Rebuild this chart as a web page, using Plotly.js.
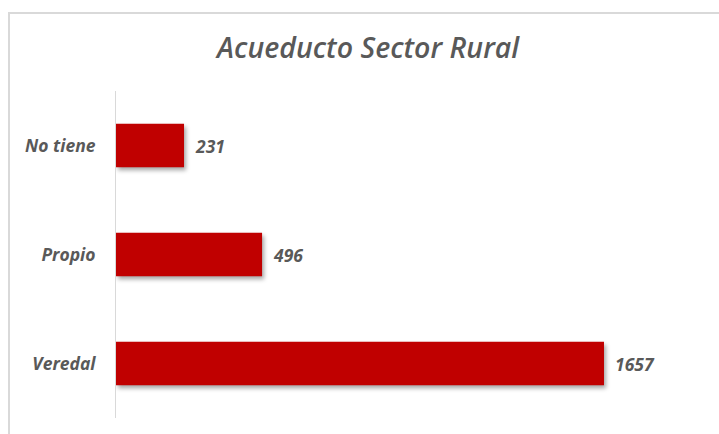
<!DOCTYPE html>
<html>
<head>
<meta charset="utf-8">
<script src="https://cdn.plot.ly/plotly-3.0.1.min.js"></script>
<style>
  html, body { margin: 0; padding: 0; background: #fff; }
  #wrap { position: relative; width: 719px; height: 434px; overflow: hidden; }
  #chart { width: 719px; height: 434px; }
  #frame { position: absolute; left: 8px; top: 12px; width: 720px; height: 440px;
           border-left: 2px solid #d9d9d9; border-top: 2px solid #d9d9d9; box-sizing: border-box; pointer-events: none; }
  .bars path { filter: drop-shadow(2px 3px 2px rgba(0,0,0,0.35)); }
</style>
</head>
<body>
<div id="wrap">
  <div id="chart"></div>
  <div id="frame"></div>
</div>
<script>
const categories = ["Veredal", "Propio", "No tiene"];
const values = [1657, 496, 231];
const chartTitle = "Acueducto Sector Rural";

const labelFont = { family: "Open Sans, Noto Sans, sans-serif", size: 17.5, color: "#595959", weight: "bold", style: "italic" };

const annotations = categories.map((c, i) => ({
  x: values[i], y: c, xref: "x", yref: "y",
  text: String(values[i]), showarrow: false,
  xanchor: "left", xshift: 9, font: labelFont
}));

const data = [{
  type: "bar", orientation: "h",
  y: categories, x: values,
  marker: { color: "#C00000" },
  hoverinfo: "x+y"
}];

const layout = {
  width: 719, height: 434,
  margin: { l: 116, r: 19, t: 91, b: 16 },
  paper_bgcolor: "#fff", plot_bgcolor: "#fff",
  title: {
    text: chartTitle,
    font: { family: "Open Sans, Noto Sans, sans-serif", size: 28.5, color: "#595959", style: "italic", weight: 600 },
    x: 0.512, xanchor: "center", y: 0.89, yanchor: "middle", yref: "container"
  },
  bargap: 0.6,
  showlegend: false,
  xaxis: { range: [0, 1983], showgrid: false, zeroline: false, showticklabels: false, showline: false, fixedrange: true },
  yaxis: {
    type: "category", categoryorder: "array", categoryarray: categories,
    showgrid: false, zeroline: false, showline: true, linecolor: "#d9d9d9", linewidth: 1,
    ticks: "", ticklabelstandoff: 16, tickfont: labelFont, fixedrange: true
  },
  annotations: annotations
};

Plotly.newPlot("chart", data, layout, { displayModeBar: false, staticPlot: true });
</script>
</body>
</html>
